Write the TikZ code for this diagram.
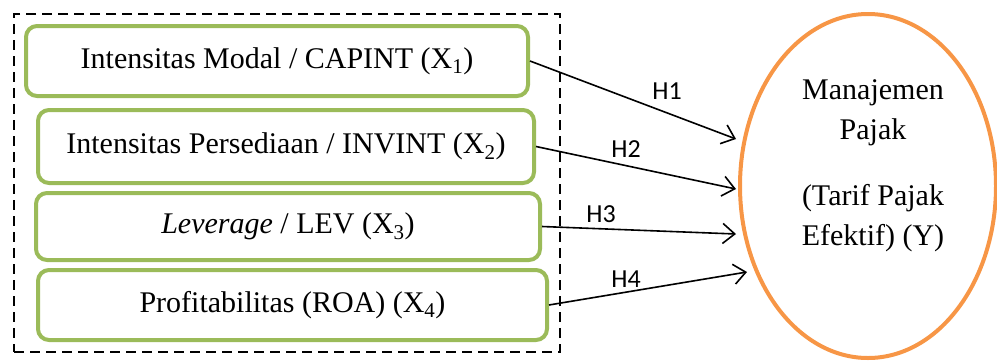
\documentclass[tikz,border=0pt]{standalone}
\usepackage{fontspec}
\setmainfont{Liberation Serif}
\newfontfamily\labelfont{Carlito}
\usetikzlibrary{shapes.geometric,arrows.meta}
\definecolor{boxgreen}{HTML}{9BBB59}
\definecolor{ellorange}{HTML}{F79646}
\tikzset{
  varbox/.style={draw=boxgreen, line width=4pt, rounded corners=11pt, fill=white,
    font=\fontsize{30}{36}\selectfont, inner sep=0pt},
  frame/.style={draw=black, line width=2.2pt, dash pattern=on 10pt off 6pt, inner sep=0pt},
  hyp/.style={line width=1.6pt, -{Straight Barb[length=12pt,width=20pt,line width=1.6pt]}},
  hlabel/.style={font=\labelfont\fontsize{26}{30}\selectfont, inner sep=0pt},
}
\begin{document}
\begin{tikzpicture}[x=1pt,y=-1pt]
\useasboundingbox (0,0) rectangle (997,360);
\node[frame, minimum width=546pt, minimum height=338pt] (grp) at (287,183) {};
\node[varbox, minimum width=502pt, minimum height=70pt] (x1) at (277,61) {Intensitas Modal / CAPINT (X\textsubscript{1})};
\node[varbox, minimum width=496pt, minimum height=73pt] (x2) at (286,146.5) {Intensitas Persediaan / INVINT (X\textsubscript{2})};
\node[varbox, minimum width=504pt, minimum height=67pt] (x3) at (288,226.5) {\textit{Leverage} / LEV (X\textsubscript{3})};
\node[varbox, minimum width=509pt, minimum height=70pt] (x4) at (292.5,305) {Profitabilitas (ROA) (X\textsubscript{4})};
\node[ellipse, draw=ellorange, line width=4pt, minimum width=256pt, minimum height=344pt, inner sep=0pt] (y) at (868,186) {};
\node[align=center, font=\fontsize{30}{40}\selectfont, inner sep=0pt] (ytext) at (873,166) {Manajemen\\Pajak\\[26pt](Tarif Pajak\\Efektif) (Y)};
\coordinate (t1) at (736,139);
\coordinate (t2) at (736,189);
\coordinate (t3) at (736,234);
\coordinate (t4) at (747,272);
\draw[hyp] (x1.east) -- (t1);
\draw[hyp] (x2.east) -- (t2);
\draw[hyp] (x3.east) -- (t3);
\draw[hyp] (x4.east) -- (t4);
\node[hlabel] (h1) at (667,91) {H1};
\node[hlabel] (h2) at (626,149) {H2};
\node[hlabel] (h3) at (601,214) {H3};
\node[hlabel] (h4) at (626,279) {H4};
\end{tikzpicture}
\end{document}
